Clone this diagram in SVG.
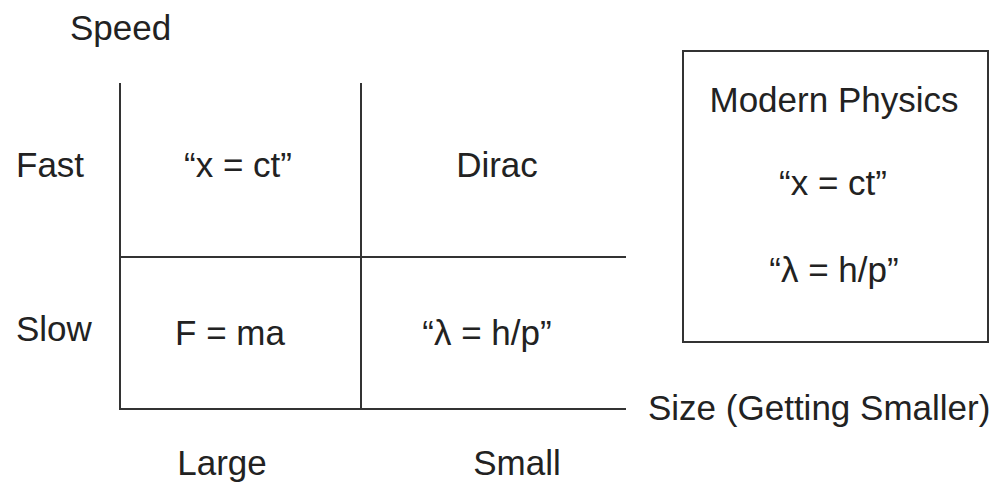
<svg xmlns="http://www.w3.org/2000/svg" width="1005" height="483" viewBox="0 0 1005 483">
<style>
.t{font-family:"Liberation Sans",Arial,sans-serif;font-size:35px;fill:#222}
.c{text-anchor:middle}
.ln{stroke:#333;stroke-width:2;fill:none}
</style>
<rect width="1005" height="483" fill="#fff"/>
<g id="connectors">
<line class="ln" x1="120" y1="83" x2="120" y2="409"/>
<line class="ln" x1="361" y1="83" x2="361" y2="409"/>
<line class="ln" x1="119" y1="257" x2="626" y2="257"/>
<line class="ln" x1="119" y1="409" x2="626" y2="409"/>
</g>
<g id="axis-speed"><text class="t" x="70" y="40">Speed</text></g>
<g id="row-fast"><text class="t" x="16" y="177">Fast</text></g>
<g id="row-slow"><text class="t" x="16" y="341">Slow</text></g>
<g id="cell-fast-large"><text class="t c" x="238" y="177">“x = ct”</text></g>
<g id="cell-fast-small"><text class="t c" x="497" y="177">Dirac</text></g>
<g id="cell-slow-large"><text class="t c" x="230" y="345">F = ma</text></g>
<g id="cell-slow-small"><text class="t c" x="487" y="345">“λ = h/p”</text></g>
<g id="col-large"><text class="t c" x="222" y="475">Large</text></g>
<g id="col-small"><text class="t c" x="517" y="475">Small</text></g>
<g id="axis-size"><text class="t" x="648" y="420">Size (Getting Smaller)</text></g>
<g id="modern-physics">
<rect class="ln" x="683" y="51" width="305" height="291"/>
<text class="t c" x="834" y="112">Modern Physics</text>
<text class="t c" x="833" y="195">“x = ct”</text>
<text class="t c" x="834" y="282">“λ = h/p”</text>
</g>
</svg>
